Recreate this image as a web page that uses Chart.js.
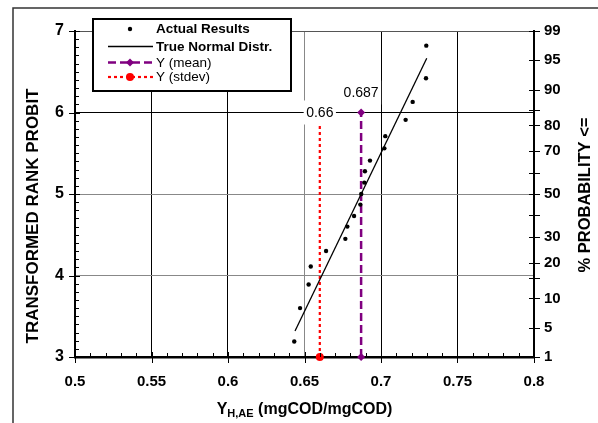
<!DOCTYPE html>
<html><head><meta charset="utf-8">
<script src="https://cdn.jsdelivr.net/npm/chart.js@4"></script>
<style>html,body{margin:0;padding:0;background:#fff}#wrap{width:598px;height:423px;position:relative}</style>
</head><body><div id="wrap"><canvas id="c" width="598" height="423"></canvas></div>
<script>
// ---- data ----
const actualX = [0.6433,0.6471,0.6527,0.6541,0.6641,0.6767,0.6780,0.6824,0.6865,0.6871,0.6891,0.6895,0.6928,0.7022,0.7028,0.7161,0.7207,0.7294,0.7296];
const actualY = [3.19,3.60,3.89,4.11,4.30,4.45,4.60,4.73,4.87,5.00,5.14,5.28,5.41,5.56,5.71,5.91,6.13,6.42,6.82];
const normalX = [0.6438,0.7299];
const normalY = [3.32,6.665];
const meanX = [0.687,0.687];
const meanY = [3,6];
const sdX = [0.66,0.66];
const sdY = [3,6];
const meanLabel = '0.687';
const sdLabel = '0.66';
const probPos = [7,6.645,6.282,6.036,5.842,5.524,5.253,5,4.747,4.476,4.158,3.964,3.718,3.355,3];
const probLabels = ['99','95','90','','80','70','','50','','30','20','','10','5','1'];
const seriesNames = ['Actual Results','True Normal Distr.','Y (mean)','Y (stdev)'];
const xTitleMain = 'Y', xTitleSub = 'H,AE', xTitleRest = ' (mgCOD/mgCOD)';
const yTitle = 'TRANSFORMED RANK PROBIT';
const y2Title = '% PROBABILITY <=';

const FF = '"Liberation Sans", Arial, sans-serif';
const pts = (xs, ys) => xs.map((x,i)=>({x, y:ys[i]}));

const decor = {
  id:'decor',
  beforeDraw(chart){
    const ctx = chart.ctx;
    ctx.save();
    ctx.fillStyle='#fff'; ctx.fillRect(0,0,chart.width,chart.height);
    ctx.strokeStyle='#333'; ctx.lineWidth=1.5;
    ctx.strokeRect(13,8,chart.width,chart.height);
    ctx.restore();
  },
  afterDatasetsDraw(chart){
    const ctx = chart.ctx, xs = chart.scales.x, ys = chart.scales.y;
    const ca = chart.chartArea;
    ctx.save();
    // ticks
    ctx.strokeStyle='#000'; ctx.lineWidth=1;
    for(let i=30;i<=70;i++){
      const v=i/10, y=Math.round(ys.getPixelForValue(v))+0.5;
      ctx.beginPath();
      if(i%10===0){ ctx.moveTo(ca.left-6,y); ctx.lineTo(ca.left+5,y);} else { ctx.moveTo(ca.left,y); ctx.lineTo(ca.left+4,y);}
      ctx.stroke();
    }
    for(let i=50;i<=80;i++){
      const v=i/100, x=Math.round(xs.getPixelForValue(v))+0.5;
      ctx.beginPath();
      if(i%5===0){ ctx.moveTo(x,ca.bottom-5); ctx.lineTo(x,ca.bottom+6);} else { ctx.moveTo(x,ca.bottom); ctx.lineTo(x,ca.bottom-4);}
      ctx.stroke();
    }
    probPos.forEach(v=>{
      const y=Math.round(ys.getPixelForValue(v))+0.5;
      ctx.beginPath(); ctx.moveTo(ca.right-5,y); ctx.lineTo(ca.right+6,y); ctx.stroke();
    });
    // data labels
    ctx.font = '14px '+FF; ctx.textAlign='center'; ctx.textBaseline='middle';
    const lab = (txt, x, y) => {
      const w = ctx.measureText(txt).width + 5;
      ctx.fillStyle='#fff'; ctx.fillRect(x-w/2, y-12, w, 24);
      ctx.fillStyle='#000'; ctx.fillText(txt, x, y+1);
    };
    lab(sdLabel, xs.getPixelForValue(sdX[1]), ys.getPixelForValue(sdY[1]));
    lab(meanLabel, xs.getPixelForValue(meanX[1]), ys.getPixelForValue(meanY[1]) - 20);
    // legend
    const L=93,T=19,R=291,B=91;
    ctx.fillStyle='#fff'; ctx.fillRect(L,T,R-L,B-T);
    ctx.strokeStyle='#000'; ctx.lineWidth=2; ctx.strokeRect(L,T,R-L,B-T);
    const rows=[29,46.5,62.5,77];
    const ds = chart.data.datasets;
    ctx.textAlign='left'; ctx.textBaseline='middle';
    rows.forEach((ry,i)=>{
      const d = ds[i];
      ctx.save();
      if(d.showLine!==false){
        ctx.strokeStyle=d.borderColor; ctx.lineWidth=d.borderWidth; ctx.setLineDash(d.borderDash||[]);
        ctx.beginPath(); ctx.moveTo(108,ry); ctx.lineTo(153,ry); ctx.stroke();
      }
      ctx.setLineDash([]);
      if(d.pointRadius>0){
        ctx.fillStyle=d.pointBackgroundColor;
        const r=d.pointRadius;
        ctx.beginPath();
        if(d.pointStyle==='rectRot'){ ctx.moveTo(130,ry-r); ctx.lineTo(130+r,ry); ctx.lineTo(130,ry+r); ctx.lineTo(130-r,ry);} else { ctx.arc(130,ry,r,0,Math.PI*2);}
        ctx.closePath(); ctx.fill();
      }
      ctx.restore();
      ctx.fillStyle='#000';
      ctx.font = (i<2?'bold ':'')+'13.5px '+FF;
      ctx.fillText(d.label, 156, ry+0.5);
    });
    // axis titles
    ctx.fillStyle='#000';
    ctx.textAlign='center'; ctx.textBaseline='middle';
    ctx.font='bold 17px '+FF;
    ctx.save(); ctx.translate(33,216); ctx.rotate(-Math.PI/2); ctx.fillText(yTitle,0,0); ctx.restore();
    ctx.font='bold 16.5px '+FF;
    ctx.save(); ctx.translate(585,195); ctx.rotate(-Math.PI/2); ctx.fillText(y2Title,0,0); ctx.restore();
    // x title with subscript
    const fMain='bold 16px '+FF, fSub='bold 11px '+FF;
    ctx.font=fMain; const w1=ctx.measureText(xTitleMain).width, w3=ctx.measureText(xTitleRest).width;
    ctx.font=fSub; const w2=ctx.measureText(xTitleSub).width;
    let x0=(ca.left+ca.right)/2-(w1+w2+w3)/2; const ty=408;
    ctx.textAlign='left'; ctx.textBaseline='alphabetic';
    ctx.font=fMain; ctx.fillText(xTitleMain,x0,ty+6); x0+=w1;
    ctx.font=fSub; ctx.fillText(xTitleSub,x0,ty+9); x0+=w2;
    ctx.font=fMain; ctx.fillText(xTitleRest,x0,ty+6);
    ctx.restore();
  }
};

new Chart(document.getElementById('c'), {
  type:'scatter',
  data:{ datasets:[
    { label:seriesNames[0], data:pts(actualX,actualY), showLine:false, pointRadius:2.2, pointBackgroundColor:'#000', pointBorderWidth:0, borderColor:'#000', pointStyle:'circle'},
    { label:seriesNames[1], data:pts(normalX,normalY), showLine:true, pointRadius:0, borderColor:'#000', borderWidth:1.3 },
    { label:seriesNames[2], data:pts(meanX,meanY), showLine:true, borderColor:'#800080', borderWidth:2.5, borderDash:[8,4], pointStyle:'rectRot', pointRadius:4, pointBackgroundColor:'#800080', pointBorderWidth:0, clip:false },
    { label:seriesNames[3], data:pts(sdX,sdY), showLine:true, borderColor:'#ff0000', borderWidth:2.2, borderDash:[3,3], pointStyle:'circle', pointRadius:4, pointBackgroundColor:'#ff0000', pointBorderWidth:0, clip:false }
  ]},
  options:{
    responsive:false, animation:false, devicePixelRatio:1,
    layout:{padding:{top:31,left:0,right:0,bottom:0}},
    plugins:{legend:{display:false}, tooltip:{enabled:false}},
    scales:{
      x:{ type:'linear', position:'bottom', min:0.5, max:0.8,
        ticks:{stepSize:0.05, color:'#000', font:{family:FF, size:15, weight:'bold'}, padding:16, maxRotation:0,
          callback:v=>String(+v.toFixed(2))},
        grid:{drawTicks:false, lineWidth:1, color:c=>Math.abs(c.tick.value-0.65)<1e-6?'#888':'#000'},
        border:{color:'#000', width:2.5},
        afterFit:s=>{s.height=66;}
      },
      y:{ type:'linear', position:'left', min:3, max:7,
        ticks:{stepSize:1, color:'#000', font:{family:FF, size:16, weight:'bold'}, padding:11},
        grid:{drawTicks:false, lineWidth:1, color:c=>{const v=c.tick.value; return (v===4||v===5)?'#888':(v===7?'#555':'#000');}},
        border:{color:'#000', width:2},
        afterFit:s=>{s.width=75;}
      },
      y2:{ type:'linear', position:'right', min:3, max:7,
        afterBuildTicks:s=>{s.ticks=probPos.map(v=>({value:v}));},
        ticks:{autoSkip:false, color:'#000', font:{family:FF, size:15, weight:'bold'}, padding:10,
          callback:(v,i)=>probLabels[i]},
        grid:{drawOnChartArea:false, drawTicks:false},
        border:{color:'#000', width:2},
        afterFit:s=>{s.width=64;}
      }
    }
  },
  plugins:[decor]
});
</script></body></html>
